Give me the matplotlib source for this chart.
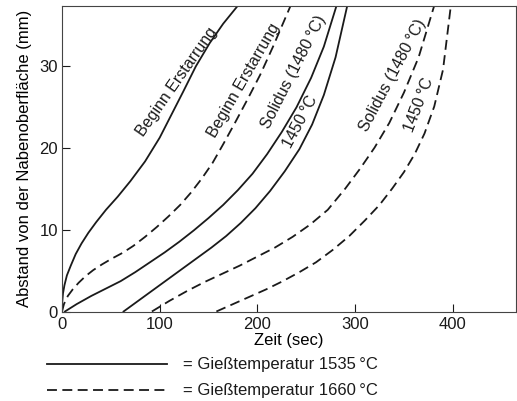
import matplotlib
matplotlib.use("Agg")
import math
import matplotlib.pyplot as plt
from matplotlib.lines import Line2D

plt.rcParams['font.family'] = ['Liberation Sans', 'DejaVu Sans']
plt.rcParams['font.size'] = 12

# Data (time in sec, distance from hub surface in mm)
# Casting temperature 1535 °C (solid lines)
t_begin_1535 = [0, 0.3, 1, 2.5, 5, 9, 14, 20, 27, 35, 45, 57, 70, 85, 100, 112, 124, 137, 151, 165, 180]
y_begin_1535 = [0, 1.2, 2.2, 3.2, 4.4, 5.6, 7.0, 8.3, 9.6, 10.9, 12.4, 14.0, 15.9, 18.3, 21.2, 24.0, 26.8, 29.9, 32.7, 35.1, 37.3]

t_sol1480_1535 = [3, 15, 30, 45, 60, 75, 90, 105, 120, 135, 150, 165, 180, 195, 210, 225, 240, 255, 268, 281]
y_sol1480_1535 = [0, 0.9, 1.9, 2.8, 3.7, 4.8, 6.0, 7.2, 8.5, 9.9, 11.4, 13.0, 14.8, 16.8, 19.2, 21.9, 24.9, 28.5, 32.3, 37.3]

t_1450_1535 = [63, 78, 93, 108, 123, 138, 153, 168, 183, 198, 213, 228, 243, 256, 268, 280, 292]
y_1450_1535 = [0, 1.3, 2.6, 3.9, 5.2, 6.5, 7.8, 9.2, 10.8, 12.6, 14.7, 17.1, 19.8, 22.8, 26.4, 31.0, 37.3]

# Casting temperature 1660 °C (dashed lines)
t_begin_1660 = [0, 2, 6, 11, 17, 24, 32, 41, 51, 62, 73, 85, 97, 109, 121, 132, 143, 154, 165, 177, 190, 203, 216, 234]
y_begin_1660 = [0, 0.9, 1.9, 2.7, 3.5, 4.3, 5.05, 5.75, 6.45, 7.15, 8.0, 9.1, 10.3, 11.6, 13.0, 14.5, 16.2, 18.1, 20.4, 23.0, 25.9, 28.9, 32.3, 37.3]

t_sol1480_1660 = [92, 110, 128, 146, 164, 182, 200, 218, 236, 254, 272, 290, 305, 320, 335, 350, 365, 381]
y_sol1480_1660 = [0, 1.3, 2.5, 3.6, 4.6, 5.6, 6.7, 7.8, 9.1, 10.6, 12.4, 15.0, 17.4, 20.0, 23.0, 26.7, 31.0, 37.3]

t_1450_1660 = [158, 175, 192, 209, 226, 243, 260, 277, 294, 310, 325, 338, 350, 361, 371, 381, 390, 398]
y_1450_1660 = [0, 0.9, 1.8, 2.7, 3.7, 4.8, 6.0, 7.5, 9.2, 11.1, 13.0, 15.0, 17.0, 19.2, 21.7, 25.0, 29.5, 37.3]

x_ticks = [0, 100, 200, 300, 400]
y_ticks = [0, 10, 20, 30]

curve_labels = [
    # text, t, y, rotation (deg)
    ("Beginn Erstarrung", 123, 27.5, 55),
    ("Beginn Erstarrung", 192, 27.8, 60),
    ("Solidus (1480\u2009°C)", 243, 28.8, 63),
    ("1450\u2009°C", 250, 22.8, 62),
    ("Solidus (1480\u2009°C)", 345, 28.4, 62),
    ("1450\u2009°C", 372, 24.9, 69),
]

legend_texts = ["= Gießtemperatur 1535\u2009°C", "= Gießtemperatur 1660\u2009°C"]

W, H = 517, 401
fig = plt.figure(figsize=(W / 100, H / 100), dpi=100)
ax = fig.add_axes([62.0 / W, 1 - 311.5 / H, (516 - 62.0) / W, (311.5 - 5.5) / H])

col = '#1a1a1a'
lw = 1.3
dash = (5.5, 3)

ax.plot(t_begin_1535, y_begin_1535, color=col, lw=lw)
ax.plot(t_sol1480_1535, y_sol1480_1535, color=col, lw=lw)
ax.plot(t_1450_1535, y_1450_1535, color=col, lw=lw)
ax.plot(t_begin_1660, y_begin_1660, color=col, lw=lw, dashes=dash)
ax.plot(t_sol1480_1660, y_sol1480_1660, color=col, lw=lw, dashes=dash)
ax.plot(t_1450_1660, y_1450_1660, color=col, lw=lw, dashes=dash)

ax.set_xlim(0, (516 - 62.0) / 0.977)
ax.set_ylim(0, (311.5 - 5.5) / 8.2)
ax.set_xticks(x_ticks)
ax.set_yticks(y_ticks)
ax.tick_params(direction='in', length=6, width=0.8, colors=col, pad=3)
ax.tick_params(axis='x', pad=4)
for s in ax.spines.values():
    s.set_linewidth(0.8)
    s.set_color('#444444')

ax.set_xlabel("Zeit (sec)", labelpad=1)
ax.set_ylabel("Abstand von der Nabenoberfläche (mm)", labelpad=5)

# labels sit just to the upper-left of their curve (perpendicular offset)
off = 4.8  # points
for txt, tx, ty, rot in curve_labels:
    r = math.radians(rot)
    ax.annotate(txt, (tx, ty), xytext=(-off * math.sin(r), off * math.cos(r)),
                textcoords='offset points', rotation=rot, rotation_mode='anchor',
                ha='center', va='center', color=col, fontsize=11.5)

# legend (manual, below the axes)
for i, txt in enumerate(legend_texts):
    yy = 1 - (364 + 26 * i) / H
    ls = '-' if i == 0 else (0, (5.5, 3))
    fig.add_artist(Line2D([47 / W, 167 / W], [yy, yy], color=col, lw=lw, linestyle=ls))
    fig.text(183 / W, yy, txt, ha='left', va='center', color=col, fontsize=12)

fig.savefig("out.png", dpi=100)
